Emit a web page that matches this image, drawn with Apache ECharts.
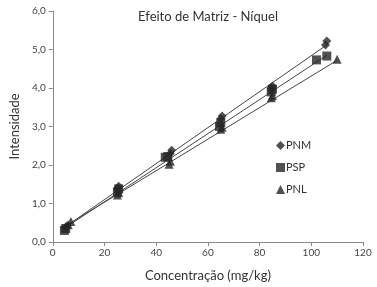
<!DOCTYPE html>
<html>
<head>
<meta charset="utf-8">
<script src="https://cdn.jsdelivr.net/npm/echarts@6/dist/echarts.min.js"></script>
<style>
  html, body { margin: 0; padding: 0; background: #fff; }
  #chart { width: 377px; height: 287px; }
</style>
</head>
<body>
<div id="chart"></div>
<script>
// pontos medidos (concentração, intensidade)
const pnm = [[5, 0.38], [5.5, 0.42], [25, 1.38], [25.5, 1.45], [45.5, 2.3], [46, 2.38],
  [65, 3.2], [65.5, 3.27], [84.5, 4.0], [85, 4.05], [105.5, 5.12], [106, 5.22]];
const psp = [[4.5, 0.3], [5, 0.35], [25, 1.3], [25.5, 1.38], [43.5, 2.2], [44.5, 2.22],
  [64.5, 3.0], [65, 3.1], [84.5, 3.9], [85, 3.97], [102, 4.73], [106, 4.83]];
const pnl = [[6, 0.45], [7, 0.53], [25, 1.22], [25.5, 1.28], [45, 2.02], [45.5, 2.1],
  [65, 2.93], [65.5, 2.98], [84.5, 3.75], [85, 3.8], [110, 4.75]];

// linhas de tendência (extremos)
const pnmFit = [[5, 0.40], [106, 5.12]];
const pspFit = [[5, 0.38], [106, 4.85]];
const pnlFit = [[6.5, 0.48], [110, 4.72]];

const font = "Lato, 'Open Sans', sans-serif";
const ink = "#262626";

const trend = (data) => ({
  type: "line",
  data: data,
  symbol: "none",
  silent: true,
  lineStyle: { color: "#444", width: 1 },
  z: 1,
});

const chart = echarts.init(document.getElementById("chart"));
chart.setOption({
  animation: false,
  title: {
    text: "Efeito de Matriz - Níquel",
    left: 203,
    textAlign: "center",
    top: 5,
    textStyle: { fontFamily: font, fontSize: 13, fontWeight: "normal", color: "#333" },
  },
  grid: { left: 43, right: 14, top: 11, bottom: 44 },
  legend: {
    orient: "vertical",
    left: 271,
    top: 135,
    itemGap: 11,
    itemWidth: 9,
    itemHeight: 9,
    textStyle: { fontFamily: font, fontSize: 11, color: "#333", padding: [0, 0, 0, -4] },
    data: ["PNM", "PSP", "PNL"],
  },
  xAxis: {
    type: "value",
    min: 0,
    max: 120,
    interval: 20,
    name: "Concentração (mg/kg)",
    nameLocation: "middle",
    nameGap: 27,
    nameTextStyle: { fontFamily: font, fontSize: 13, color: "#333" },
    axisLine: { lineStyle: { color: "#888" } },
    axisTick: { show: true, length: 4, lineStyle: { color: "#888" } },
    axisLabel: { fontFamily: font, fontSize: 10, color: "#444", margin: 6 },
    splitLine: { show: false },
  },
  yAxis: {
    type: "value",
    min: 0,
    max: 6,
    interval: 1,
    name: "Intensidade",
    nameLocation: "middle",
    nameGap: 29,
    nameTextStyle: { fontFamily: font, fontSize: 13, color: "#333" },
    axisLine: { show: true, lineStyle: { color: "#888" } },
    axisTick: { show: true, length: 4, lineStyle: { color: "#888" } },
    axisLabel: {
      fontFamily: font, fontSize: 10, color: "#444", margin: 7,
      formatter: (v) => v.toFixed(1).replace(".", ","),
    },
    splitLine: { show: false },
  },
  series: [
    trend(pnmFit),
    trend(pspFit),
    trend(pnlFit),
    { name: "PNM", type: "scatter", data: pnm, symbol: "diamond", symbolSize: 9, itemStyle: { color: ink }, z: 3 },
    { name: "PSP", type: "scatter", data: psp, symbol: "rect", symbolSize: 9, itemStyle: { color: ink }, z: 3 },
    { name: "PNL", type: "scatter", data: pnl, symbol: "triangle", symbolSize: 9, itemStyle: { color: ink }, z: 3 },
  ],
});
</script>
</body>
</html>
